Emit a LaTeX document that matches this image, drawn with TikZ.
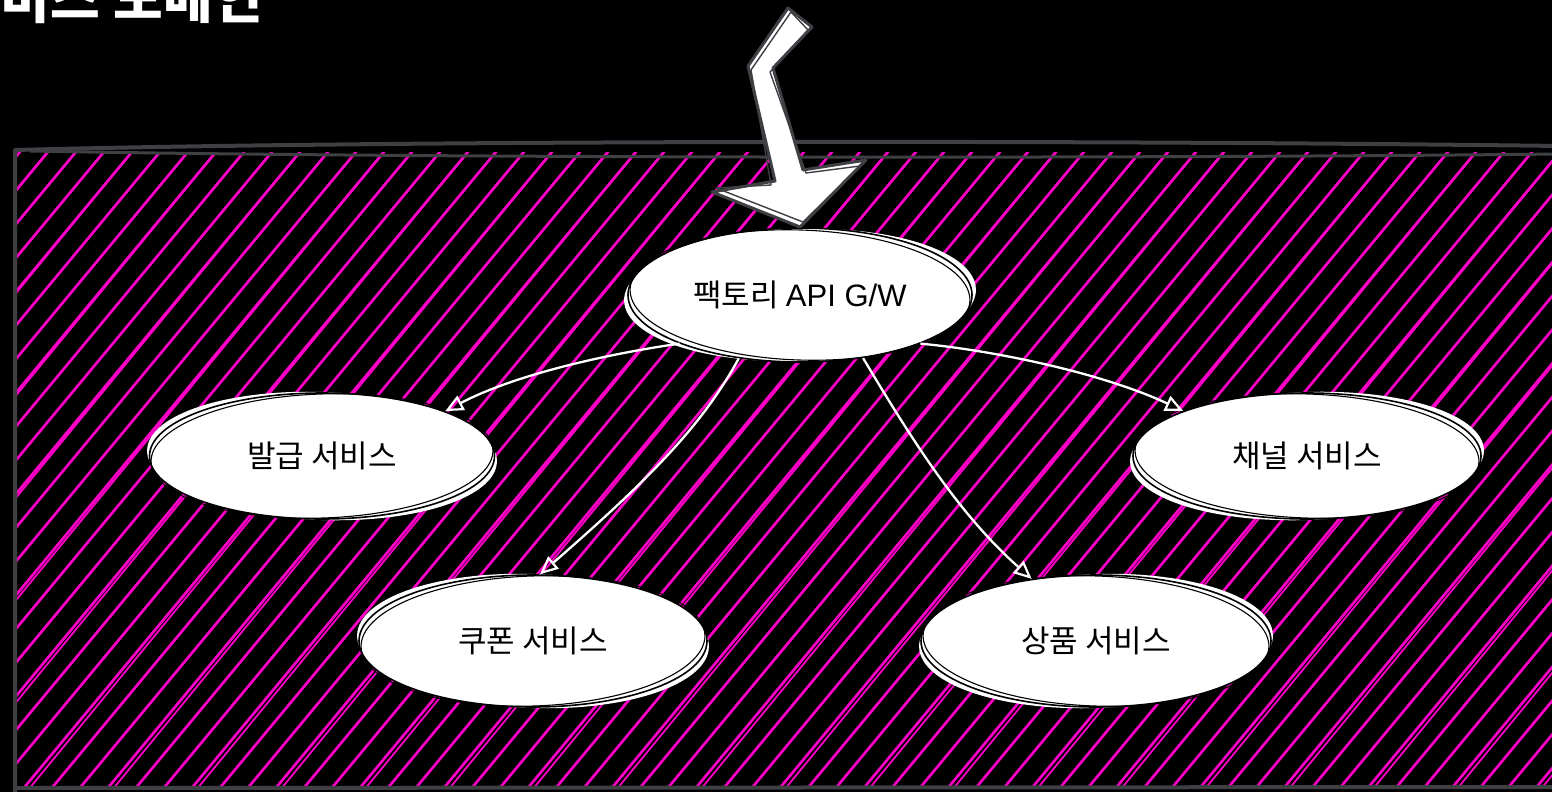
\documentclass[tikz,border=0pt]{standalone}
\usepackage{fontspec}
\usetikzlibrary{shapes.geometric,arrows.meta,calc}
\newfontfamily\kr{Noto Sans CJK KR}
\newfontfamily\lat{Liberation Sans}
\definecolor{hatchpink}{RGB}{255,0,200}
\definecolor{framegray}{RGB}{62,64,68}
\begin{document}
\begin{tikzpicture}[x=1pt,y=-1pt,
  svc/.style={ellipse, fill=white, draw=black, line width=1.6pt,
    minimum width=#1, minimum height=130pt, inner sep=0pt,
    font=\kr\fontsize{31}{36}\selectfont, text=black},
  svc/.default=346,
  halo/.style={fill=white},
  rough/.style={draw=black, line width=1.1pt},
  flow/.style={draw=white, line width=2.3pt,
    -{Triangle[open,length=18pt,width=16pt,line width=2.2pt]}},
  hatchline/.style={draw=hatchpink, line width=2.7pt},
  frameline/.style={draw=framegray, line width=4pt, line cap=round, line join=round}]
\useasboundingbox (0,0) rectangle (1552,792);
\clip (0,0) rectangle (1552,792);
\fill[black] (0,0) rectangle (1552,792);

% hatching
\begin{scope}
  \clip (17,152) rectangle (1556,787);
  \foreach \i in {0,...,78} {
    \pgfmathsetmacro\xa{-570+28*\i}
    \draw[hatchline] (\xa,795) -- ++(538,-648);
    \pgfmathtruncatemacro\m{mod(\i,3)}
    \ifnum\m=0
      \draw[hatchpink, line width=1.8pt] (\xa+6,795) -- ++(532,-648);
    \fi
  }
\end{scope}

% frame
\draw[frameline] (15,795) -- (15,150) .. controls (400,140) and (1100,140) .. (1560,146);
\draw[framegray, line width=3pt] (30,151) .. controls (400,158) and (1100,159) .. (1560,154);
\draw[frameline] (15,788) -- (1560,787);

% ellipse centres
\coordinate (cgw) at (800,295);
\coordinate (cfa) at (322,456);
\coordinate (cch) at (1307,456);
\coordinate (ccp) at (533,641);
\coordinate (cpr) at (1096,641);

% white halos
\fill[halo] (cgw) ellipse [x radius=176, y radius=66, rotate=2];
\fill[halo] (cfa) ellipse [x radius=175, y radius=64, rotate=-2];
\fill[halo] (cch) ellipse [x radius=177, y radius=64, rotate=2];
\fill[halo] (ccp) ellipse [x radius=176, y radius=67, rotate=-2];
\fill[halo] (cpr) ellipse [x radius=177, y radius=67, rotate=2];

% nodes
\node[svc=344, minimum height=134pt] (gw) at (cgw) {팩토리 {\lat API G/W}};
\node[svc=345, minimum height=126pt] (fa) at (cfa) {발급 서비스};
\node[svc=348, minimum height=126pt] (ch) at (cch) {채널 서비스};
\node[svc=348, minimum height=132pt] (cp) at (ccp) {쿠폰 서비스};
\node[svc=350, minimum height=132pt] (pr) at (cpr) {상품 서비스};

% rough second outlines
\draw[rough] (gw.center) ellipse [x radius=170, y radius=65, rotate=-2];
\draw[rough] (fa.center) ellipse [x radius=171, y radius=62, rotate=2];
\draw[rough] (ch.center) ellipse [x radius=172, y radius=62, rotate=-2];
\draw[rough] (cp.center) ellipse [x radius=172, y radius=65, rotate=2];
\draw[rough] (pr.center) ellipse [x radius=173, y radius=65, rotate=-2];

% connectors
\draw[flow] (gw.202) .. controls (620,352) and (520,372) .. (fa.20);
\draw[flow] (gw.226) .. controls (705,420) and (660,470) .. (cp.84);
\draw[flow] (gw.315) .. controls (915,445) and (960,515) .. (pr.136);
\draw[flow] (gw.338) .. controls (990,350) and (1100,372) .. (ch.160);

% big entry arrow
\filldraw[fill=white, draw=framegray, line width=3pt, line join=round]
  (788,8) -- (812,27) -- (773,68) -- (803,170) -- (866,160) -- (800,227)
  -- (712,192) -- (775,181) -- (748,66) -- cycle;
\draw[framegray, line width=1.4pt, line join=round]
  (791,12) -- (808,30) -- (770,72) -- (806,173) -- (860,166) -- (803,222)
  -- (716,188) -- (771,185) -- (751,70) -- cycle;

% title (cut at the top edge, as in the reference)
\node[anchor=base east, inner sep=0pt, text=white,
  font=\kr\bfseries\fontsize{54}{60}\selectfont] (title) at (263,19) {서비스\hspace{14pt}도메인};
\end{tikzpicture}
\end{document}
